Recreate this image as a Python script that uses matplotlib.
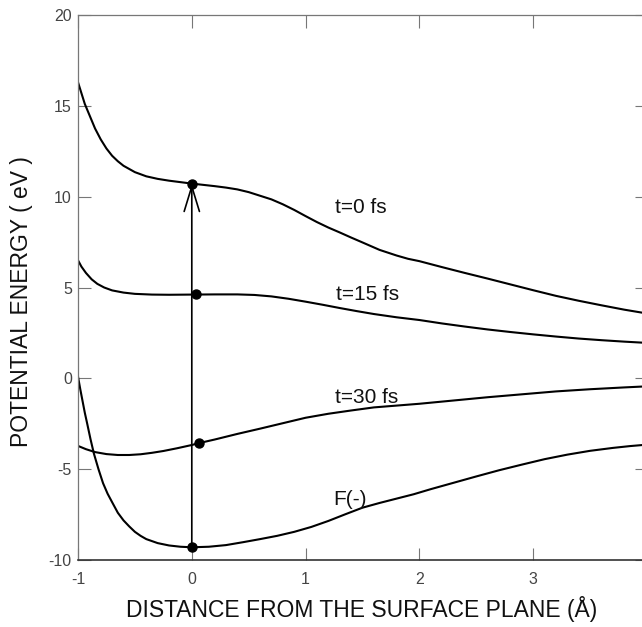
import matplotlib
matplotlib.use('Agg')
import matplotlib.pyplot as plt

# curves (x in Angstrom, energy in eV)
x_t0 = [-1.0, -0.97, -0.94, -0.9, -0.85, -0.8, -0.75, -0.7, -0.65, -0.6, -0.5, -0.4, -0.3, -0.2, -0.1,
        0.0, 0.1, 0.2, 0.3, 0.4, 0.5, 0.6, 0.7, 0.8, 0.9, 1.0, 1.1, 1.2, 1.3, 1.4, 1.5, 1.65, 1.8, 1.9,
        2.0, 2.2, 2.4, 2.6, 2.8, 3.0, 3.2, 3.4, 3.6, 3.8, 4.0]
y_t0 = [16.3, 15.7, 15.1, 14.5, 13.75, 13.15, 12.65, 12.25, 11.95, 11.7, 11.35, 11.12, 10.98, 10.88, 10.8,
        10.72, 10.65, 10.58, 10.5, 10.4, 10.25, 10.05, 9.85, 9.58, 9.27, 8.93, 8.6, 8.3, 8.03, 7.75, 7.48, 7.07, 6.76, 6.58,
        6.45, 6.12, 5.8, 5.49, 5.17, 4.85, 4.54, 4.27, 4.02, 3.78, 3.57]

x_t15 = [-1.0, -0.97, -0.93, -0.88, -0.83, -0.77, -0.7, -0.6, -0.5, -0.35, -0.2, 0.0, 0.2, 0.4, 0.55, 0.7,
         0.85, 1.0, 1.15, 1.3, 1.45, 1.6, 1.8, 2.0, 2.2, 2.4, 2.6, 2.8, 3.0, 3.2, 3.4, 3.6, 3.8, 4.0]
y_t15 = [6.5, 6.15, 5.8, 5.45, 5.2, 5.0, 4.84, 4.72, 4.65, 4.61, 4.6, 4.61, 4.62, 4.62, 4.59, 4.51,
         4.38, 4.22, 4.05, 3.87, 3.7, 3.54, 3.36, 3.21, 3.02, 2.85, 2.69, 2.55, 2.42, 2.3, 2.19, 2.1, 2.02, 1.95]

x_t30 = [-1.0, -0.93, -0.85, -0.75, -0.65, -0.55, -0.45, -0.35, -0.25, -0.13, 0.0, 0.06, 0.2, 0.4, 0.6,
         0.8, 1.0, 1.2, 1.4, 1.6, 1.8, 2.0, 2.3, 2.6, 2.9, 3.2, 3.5, 3.8, 4.0]
y_t30 = [-3.72, -3.9, -4.06, -4.17, -4.22, -4.22, -4.18, -4.1, -4.0, -3.85, -3.67, -3.57, -3.37, -3.06, -2.77,
         -2.47, -2.17, -1.95, -1.77, -1.6, -1.5, -1.4, -1.22, -1.04, -0.88, -0.72, -0.6, -0.5, -0.44]

x_f = [-1.0, -0.98, -0.96, -0.94, -0.92, -0.89, -0.86, -0.82, -0.78, -0.74, -0.7, -0.65, -0.6, -0.55, -0.5,
       -0.45, -0.4, -0.3, -0.2, -0.1, 0.0, 0.15, 0.3, 0.45, 0.6, 0.75, 0.9, 1.05, 1.2, 1.35, 1.5, 1.65,
       1.8, 1.95, 2.1, 2.3, 2.5, 2.7, 2.9, 3.1, 3.3, 3.5, 3.7, 3.85, 4.0]
y_f = [0.1, -0.6, -1.25, -1.9, -2.47, -3.35, -4.15, -5.0, -5.77, -6.35, -6.82, -7.4, -7.82, -8.15, -8.45,
       -8.67, -8.85, -9.07, -9.2, -9.27, -9.3, -9.27, -9.18, -9.02, -8.85, -8.67, -8.45, -8.18, -7.85, -7.48, -7.12, -6.86,
       -6.62, -6.38, -6.1, -5.75, -5.4, -5.06, -4.75, -4.45, -4.2, -3.99, -3.83, -3.73, -3.65]

# marked points on each curve
dot_x = [0.0, 0.04, 0.06, 0.0]
dot_y = [10.72, 4.62, -3.57, -9.3]

labels = ['t=0 fs', 't=15 fs', 't=30 fs', 'F(-)']
label_x = [1.26, 1.27, 1.26, 1.24]
label_y = [9.4, 4.62, -1.08, -6.69]

yticks = [20, 15, 10, 5, 0, -5, -10]
ytick_labels = ['20', '15', '10', '5', '0', '-5', '-10']
xticks = [-1, 0, 1, 2, 3, 4]
xtick_labels = ['-1', '0', '1', '2', '3', '4']

plt.rcParams['font.family'] = ['Liberation Sans', 'DejaVu Sans']

fig = plt.figure(figsize=(6.42, 6.27), dpi=100)
# the scan cuts the right spine off, so the axes run a little past the figure edge
ax = fig.add_axes([78 / 642, 67 / 627, 569 / 642, 545 / 627])

for xs, ys in [(x_t0, y_t0), (x_t15, y_t15), (x_t30, y_t30), (x_f, y_f)]:
    ax.plot(xs, ys, color='black', lw=1.5, solid_capstyle='round', solid_joinstyle='round')

ax.plot(dot_x, dot_y, 'o', color='black', markersize=6.5, zorder=5)

# vertical excitation arrow from F(-) minimum up to t=0 curve
ax.annotate('', xy=(dot_x[0], dot_y[0]), xytext=(dot_x[3], dot_y[3]),
            arrowprops=dict(arrowstyle='->,head_length=1.8,head_width=0.55',
                            color='black', lw=1.2, shrinkA=0, shrinkB=0))

for txt, lx, ly in zip(labels, label_x, label_y):
    ax.text(lx, ly, txt, fontsize=15, color='#111111', ha='left', va='center')

ax.set_xlim(-1, 4)
ax.set_ylim(-10, 20)
ax.set_xticks(xticks)
ax.set_xticklabels(xtick_labels)
ax.set_yticks(yticks)
ax.set_yticklabels(ytick_labels)
ax.tick_params(direction='in', length=9, width=0.8, color='#777777',
               labelsize=11.5, labelcolor='#444444', top=True, right=True)
ax.tick_params(axis='x', pad=9)
ax.tick_params(axis='y', pad=4.5)

for side in ['left', 'top', 'right']:
    ax.spines[side].set_color('#777777')
    ax.spines[side].set_linewidth(0.9)
ax.spines['bottom'].set_color('#333333')
ax.spines['bottom'].set_linewidth(1.2)

fig.text(362 / 642, 10 / 627, 'DISTANCE FROM THE SURFACE PLANE (Å)', fontsize=16.5,
         color='#111111', ha='center', va='baseline')
fig.text(22 / 642, 1 - 302 / 627, 'POTENTIAL ENERGY ( eV )', fontsize=16.5,
         color='#111111', ha='center', va='center', rotation=90)

fig.savefig('out.png', dpi=100)
